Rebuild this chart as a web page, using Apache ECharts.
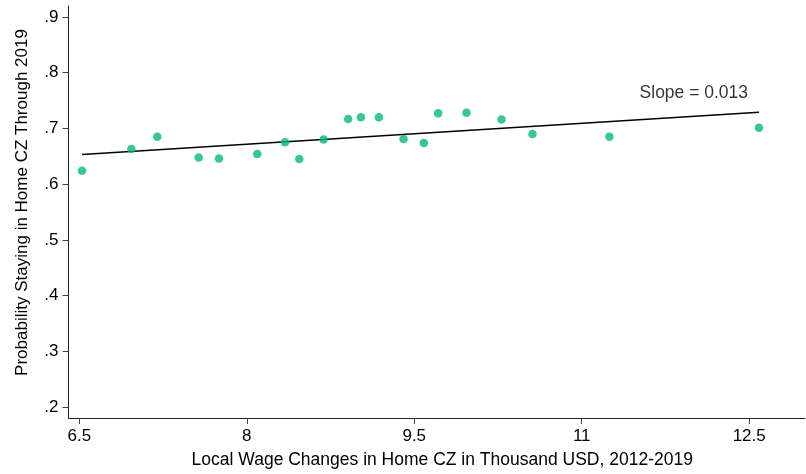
<!DOCTYPE html>
<html>
<head>
<meta charset="utf-8">
<script src="https://cdn.jsdelivr.net/npm/echarts@6/dist/echarts.min.js"></script>
<style>
html,body{margin:0;padding:0;background:#fff;}
#chart{width:806px;height:474px;}
</style>
</head>
<body>
<div id="chart"></div>
<script>
// Binned scatter: local wage change (thousand USD) vs probability staying
const wageChange = [6.524, 6.966, 7.198, 7.569, 7.751, 8.094, 8.342, 8.470, 8.688, 8.908,
                    9.022, 9.183, 9.404, 9.586, 9.714, 9.968, 10.282, 10.559, 11.248, 12.588];
const probStay   = [0.624, 0.663, 0.685, 0.648, 0.646, 0.654, 0.675, 0.645, 0.680, 0.717,
                    0.720, 0.720, 0.681, 0.674, 0.727, 0.728, 0.716, 0.690, 0.685, 0.701];
// Fitted line endpoints
const fitX = [6.524, 12.588];
const fitY = [0.653, 0.729];
const slopeLabel = 'Slope = 0.013';
const slopeAnchor = [12.49, 0.7625];
const xTicks = [6.5, 8, 9.5, 11, 12.5];
const yTicks = [0.2, 0.3, 0.4, 0.5, 0.6, 0.7, 0.8, 0.9];

const FONT = '"Liberation Sans", Arial, Helvetica, sans-serif';
const chart = echarts.init(document.getElementById('chart'), null, {renderer: 'canvas'});

const fmtY = v => {
  const s = (Math.round(v * 10) / 10).toFixed(1);
  return s.replace(/^0/, '');
};

chart.setOption({
  animation: false,
  backgroundColor: '#fff',
  grid: {left: 68.5, right: 1, top: 6, bottom: 55, containLabel: false},
  xAxis: {
    type: 'value',
    min: 6.403, max: 13.0,
    name: 'Local Wage Changes in Home CZ in Thousand USD, 2012-2019',
    nameLocation: 'middle',
    nameGap: 33,
    nameTextStyle: {fontFamily: FONT, fontSize: 17.5, color: '#000', padding: [0, 0, 0, 11]},
    axisLine: {show: true, onZero: false, lineStyle: {color: '#222', width: 1}},
    axisTick: {show: true, length: 6, lineStyle: {color: '#444'}, customValues: xTicks},
    axisLabel: {show: true, margin: 10, fontFamily: FONT, fontSize: 17, color: '#000',
                customValues: xTicks, formatter: v => String(v)},
    splitLine: {show: false}
  },
  yAxis: {
    type: 'value',
    min: 0.1803, max: 0.9197,
    name: 'Probability Staying in Home CZ Through 2019',
    nameLocation: 'middle',
    nameGap: 38,
    nameRotate: 90,
    nameTextStyle: {fontFamily: FONT, fontSize: 17, color: '#000', padding: [0, 0, 0, 19]},
    axisLine: {show: true, onZero: false, lineStyle: {color: '#222', width: 1}},
    axisTick: {show: true, length: 6, lineStyle: {color: '#444'}, customValues: yTicks},
    axisLabel: {show: true, margin: 10, fontFamily: FONT, fontSize: 17, color: '#000',
                customValues: yTicks, formatter: fmtY},
    splitLine: {show: false}
  },
  series: [
    {
      type: 'line',
      data: fitX.map((x, i) => [x, fitY[i]]),
      symbol: 'none',
      lineStyle: {color: '#000', width: 1.5},
      z: 2,
      silent: true
    },
    {
      type: 'scatter',
      data: wageChange.map((x, i) => [x, probStay[i]]),
      symbol: 'circle',
      symbolSize: 8.5,
      itemStyle: {color: '#00bc7a'},
      z: 3,
      silent: true
    },
    {
      type: 'scatter',
      data: [slopeAnchor],
      symbolSize: 0,
      label: {show: true, position: 'left', distance: 0, formatter: slopeLabel,
              fontFamily: FONT, fontSize: 17.5, color: '#000'},
      silent: true,
      z: 4
    }
  ]
});
</script>
</body>
</html>
